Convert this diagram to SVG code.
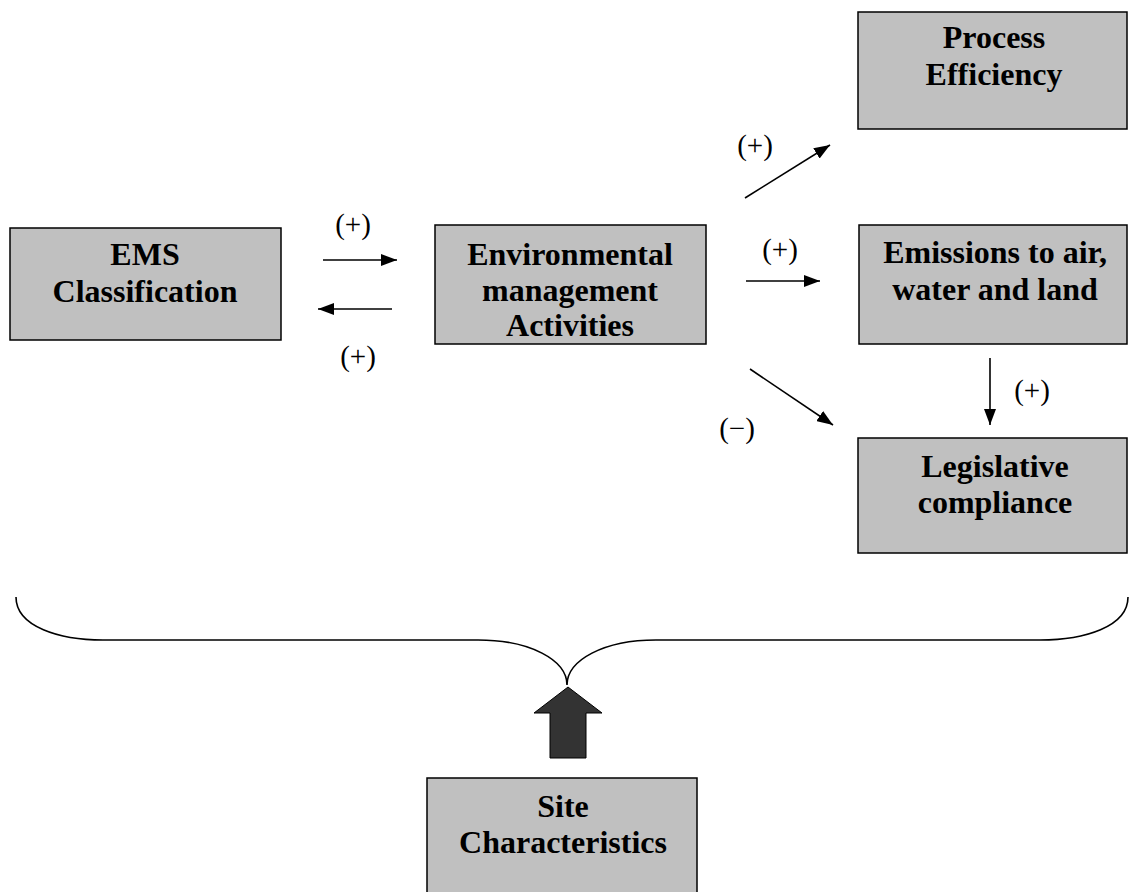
<svg xmlns="http://www.w3.org/2000/svg" width="1129" height="892" viewBox="0 0 1129 892">
<style>
.box{fill:#c0c0c0;stroke:#000;stroke-width:1.5}
.t{font-family:"Liberation Serif","Times New Roman",serif;font-weight:bold;font-size:32px;text-anchor:middle;fill:#000}
.l{font-family:"Liberation Serif","Times New Roman",serif;font-size:29px;text-anchor:middle;fill:#000}
.c{stroke:#000;stroke-width:1.6;fill:none}
</style>
<defs>
<marker id="ah" markerUnits="userSpaceOnUse" markerWidth="16" markerHeight="12" refX="16" refY="6" orient="auto">
<path d="M0,0 L16,6 L0,12 z" fill="#000"/>
</marker>
</defs>
<rect width="1129" height="892" fill="#fff"/>
<g id="ems"><rect class="box" x="10" y="228" width="271" height="112"/><text class="t" x="145" y="265">EMS</text><text class="t" x="145" y="302">Classification</text></g>
<g id="env"><rect class="box" x="435" y="225" width="271" height="119"/><text class="t" x="570" y="265">Environmental</text><text class="t" x="570" y="301">management</text><text class="t" x="570" y="336">Activities</text></g>
<g id="proc"><rect class="box" x="858" y="12" width="269" height="117"/><text class="t" x="994" y="48">Process</text><text class="t" x="994" y="85">Efficiency</text></g>
<g id="emis"><rect class="box" x="859" y="225" width="268" height="119"/><text class="t" x="995" y="263">Emissions to air,</text><text class="t" x="995" y="300">water and land</text></g>
<g id="leg"><rect class="box" x="858" y="438" width="269" height="115"/><text class="t" x="995" y="477">Legislative</text><text class="t" x="995" y="513">compliance</text></g>
<g id="site"><rect class="box" x="427" y="778" width="270" height="120"/><text class="t" x="563" y="817">Site</text><text class="t" x="563" y="853">Characteristics</text></g>
<g id="connectors">
<line class="c" x1="323" y1="260" x2="397" y2="260" marker-end="url(#ah)"/>
<line class="c" x1="392" y1="309" x2="318" y2="309" marker-end="url(#ah)"/>
<line class="c" x1="746" y1="281" x2="820" y2="281" marker-end="url(#ah)"/>
<line class="c" x1="745" y1="198" x2="830" y2="145" marker-end="url(#ah)"/>
<line class="c" x1="750" y1="369" x2="833" y2="425" marker-end="url(#ah)"/>
<line class="c" x1="990" y1="358" x2="990" y2="425" marker-end="url(#ah)"/>
<path class="c" d="M16,597 C16,627 60,640 103,640 L478,640 C530,640 567,660 567,685 C567,660 604,640 656,640 L1040,640 C1084,640 1128,627 1128,597"/>
<path d="M568,687 L602,713 L586,713 L586,758 L550,758 L550,713 L534,713 Z" fill="#333" stroke="#000" stroke-width="1"/>
</g>
<g id="labels">
<text class="l" x="353" y="234">(+)</text>
<text class="l" x="358" y="366">(+)</text>
<text class="l" x="780" y="259">(+)</text>
<text class="l" x="755" y="155">(+)</text>
<text class="l" x="737" y="438">(−)</text>
<text class="l" x="1032" y="400">(+)</text>
</g>
</svg>
